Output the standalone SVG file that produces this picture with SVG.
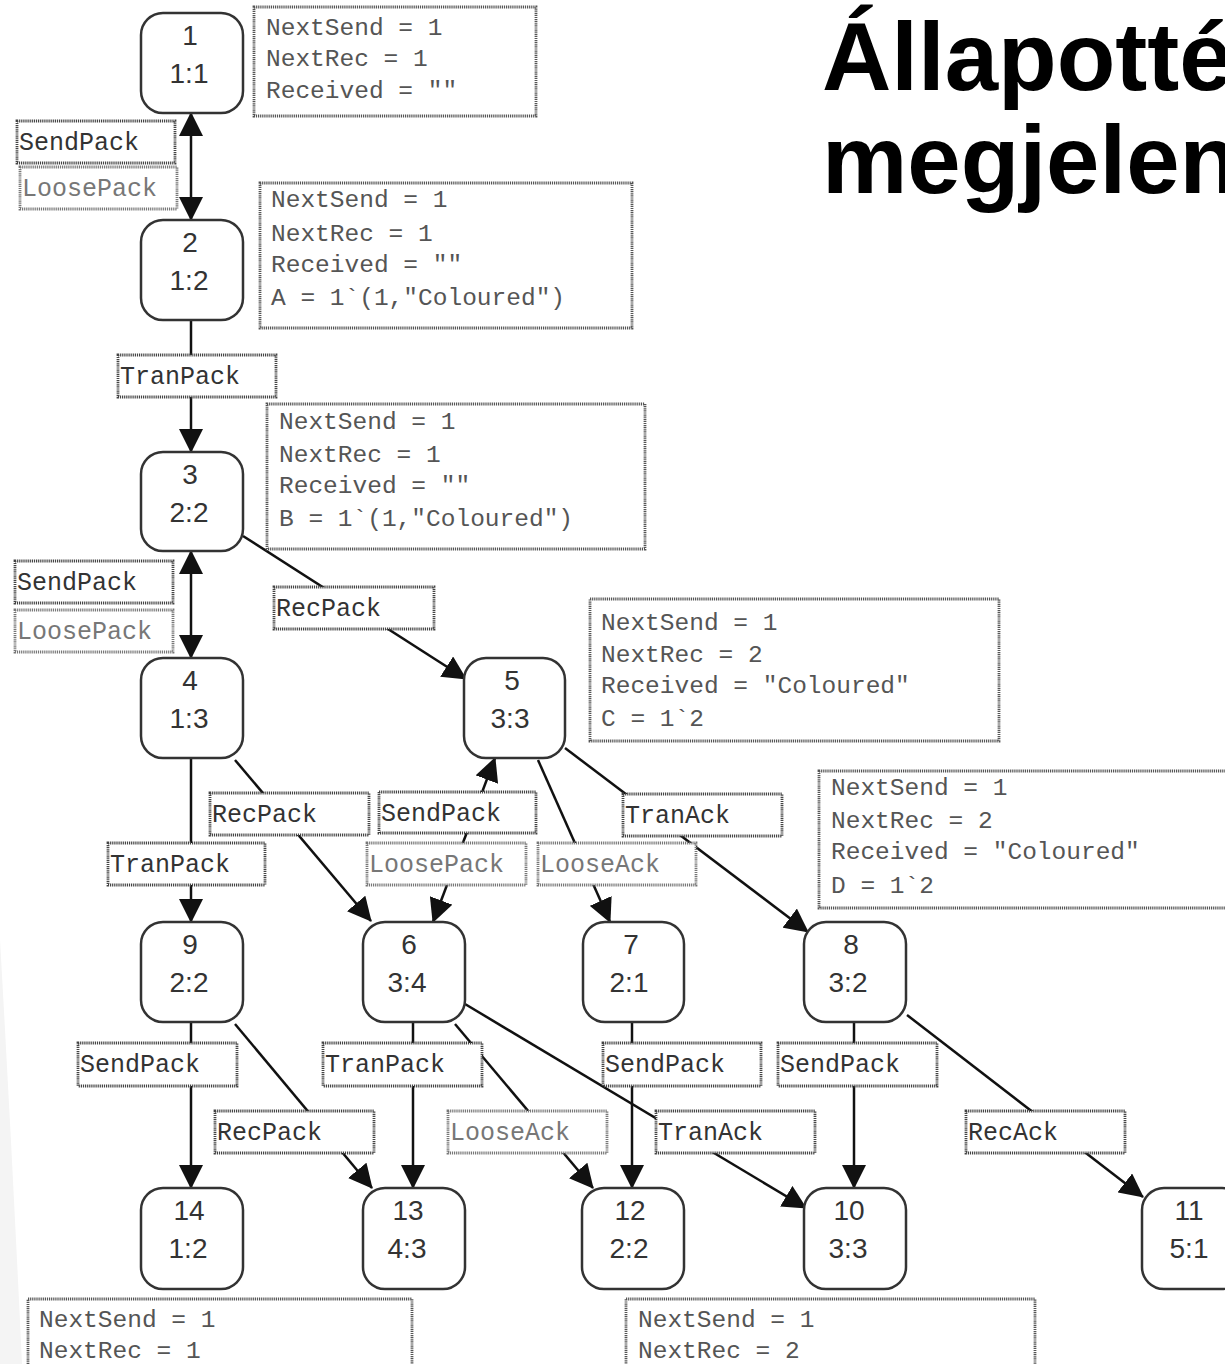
<svg xmlns="http://www.w3.org/2000/svg" width="1225" height="1364" viewBox="0 0 1225 1364">
  <defs>
    <marker id="ah" viewBox="0 0 24 24" refX="23" refY="12" markerWidth="24" markerHeight="24" markerUnits="userSpaceOnUse" orient="auto-start-reverse">
      <path d="M0,0 L24,12 L0,24 Z" fill="#111"/>
    </marker>
  </defs>
  <style>
    .node rect { fill: #fff; stroke: #333; stroke-width: 2.5; }
    .node text { font-family: "Liberation Sans", Arial, sans-serif; font-size: 28px; fill: #333; text-anchor: middle; }
    .edge { fill: none; stroke: #111; stroke-width: 2.5; marker-end: url(#ah); }
    .both { marker-start: url(#ah); }
    .info rect { fill: #fff; stroke: #555; stroke-width: 2.8; stroke-dasharray: 1.2 0.9; }
    .info text { font-family: "Liberation Mono", "Courier New", monospace; font-size: 24.5px; fill: #555; }
    .lbl rect { fill: #fff; stroke: #444; stroke-width: 2.8; stroke-dasharray: 1.2 0.9; }
    .lbl text { font-family: "Liberation Mono", "Courier New", monospace; font-size: 25px; fill: #333; }
    .lbl.loose rect { stroke: #777; }
    .lbl.loose text { fill: #777; }
    .title { font-family: "Liberation Sans", Arial, sans-serif; font-size: 96px; font-weight: bold; fill: #000; }
  </style>

  <rect width="1225" height="1364" fill="#fff"/>
  <!-- faint background sweep at the left edge -->
  <path d="M0,940 Q12,1150 22,1364 L0,1364 Z" fill="#f4f4f4"/>

  <!-- heading (runs off the right edge) -->
  <text class="title" x="822" y="90">Állapotté</text>
  <text class="title" x="822" y="193">megjelen</text>

  <!-- connectors -->
  <g id="edges">
    <path class="edge both" d="M191,113 L191,220"/>
    <path class="edge" d="M191,320 L191,452"/>
    <path class="edge both" d="M191,551 L191,658"/>
    <path class="edge" d="M243,536 L466,679"/>
    <path class="edge" d="M191,758 L191,922"/>
    <path class="edge" d="M235,760 L371,921"/>
    <path class="edge both" d="M433,922 L495,758"/>
    <path class="edge" d="M538,760 L610,922"/>
    <path class="edge" d="M565,748 L808,932"/>
    <path class="edge" d="M191,1022 L191,1188"/>
    <path class="edge" d="M235,1024 L372,1188"/>
    <path class="edge" d="M413,1022 L413,1188"/>
    <path class="edge" d="M455,1024 L593,1188"/>
    <path class="edge" d="M465,1004 L806,1208"/>
    <path class="edge" d="M632,1022 L632,1188"/>
    <path class="edge" d="M854,1022 L854,1188"/>
    <path class="edge" d="M907,1015 L1143,1197"/>
  </g>

  <!-- transition labels -->
  <g id="labels">
    <g class="lbl"><rect x="17" y="121" width="158" height="42"/><text x="19" y="150">SendPack</text></g>
    <g class="lbl loose"><rect x="20" y="167" width="157" height="42"/><text x="22" y="196">LoosePack</text></g>
    <g class="lbl"><rect x="118" y="355" width="158" height="42"/><text x="120" y="384">TranPack</text></g>
    <g class="lbl"><rect x="15" y="561" width="158" height="42"/><text x="17" y="590">SendPack</text></g>
    <g class="lbl loose"><rect x="15" y="610" width="158" height="42"/><text x="17" y="639">LoosePack</text></g>
    <g class="lbl"><rect x="274" y="587" width="160" height="42"/><text x="276" y="616">RecPack</text></g>
    <g class="lbl"><rect x="210" y="793" width="159" height="42"/><text x="212" y="822">RecPack</text></g>
    <g class="lbl"><rect x="379" y="792" width="157" height="41"/><text x="381" y="821">SendPack</text></g>
    <g class="lbl"><rect x="623" y="794" width="159" height="42"/><text x="625" y="823">TranAck</text></g>
    <g class="lbl"><rect x="108" y="843" width="157" height="42"/><text x="110" y="872">TranPack</text></g>
    <g class="lbl loose"><rect x="367" y="843" width="159" height="42"/><text x="369" y="872">LoosePack</text></g>
    <g class="lbl loose"><rect x="538" y="843" width="158" height="42"/><text x="540" y="872">LooseAck</text></g>
    <g class="lbl"><rect x="78" y="1043" width="159" height="43"/><text x="80" y="1072">SendPack</text></g>
    <g class="lbl"><rect x="323" y="1043" width="159" height="43"/><text x="325" y="1072">TranPack</text></g>
    <g class="lbl"><rect x="603" y="1043" width="158" height="43"/><text x="605" y="1072">SendPack</text></g>
    <g class="lbl"><rect x="778" y="1043" width="159" height="43"/><text x="780" y="1072">SendPack</text></g>
    <g class="lbl"><rect x="215" y="1111" width="159" height="42"/><text x="217" y="1140">RecPack</text></g>
    <g class="lbl loose"><rect x="448" y="1111" width="159" height="42"/><text x="450" y="1140">LooseAck</text></g>
    <g class="lbl"><rect x="656" y="1111" width="159" height="42"/><text x="658" y="1140">TranAck</text></g>
    <g class="lbl"><rect x="966" y="1111" width="159" height="42"/><text x="968" y="1140">RecAck</text></g>
  </g>

  <!-- state descriptions -->
  <g id="info-1" class="info">
    <rect x="254" y="7" width="282" height="109"/>
    <text x="266" y="35">NextSend = 1</text>
    <text x="266" y="66">NextRec = 1</text>
    <text x="266" y="98">Received = ""</text>
  </g>
  <g id="info-2" class="info">
    <rect x="260" y="183" width="372" height="145"/>
    <text x="271" y="207">NextSend = 1</text>
    <text x="271" y="241">NextRec = 1</text>
    <text x="271" y="272">Received = ""</text>
    <text x="271" y="305">A = 1`(1,"Coloured")</text>
  </g>
  <g id="info-3" class="info">
    <rect x="267" y="404" width="378" height="145"/>
    <text x="279" y="429">NextSend = 1</text>
    <text x="279" y="462">NextRec = 1</text>
    <text x="279" y="493">Received = ""</text>
    <text x="279" y="526">B = 1`(1,"Coloured")</text>
  </g>
  <g id="info-5" class="info">
    <rect x="590" y="599" width="409" height="142"/>
    <text x="601" y="630">NextSend = 1</text>
    <text x="601" y="662">NextRec = 2</text>
    <text x="601" y="693">Received = "Coloured"</text>
    <text x="601" y="726">C = 1`2</text>
  </g>
  <g id="info-8" class="info">
    <rect x="819" y="771" width="420" height="137"/>
    <text x="831" y="795">NextSend = 1</text>
    <text x="831" y="828">NextRec = 2</text>
    <text x="831" y="859">Received = "Coloured"</text>
    <text x="831" y="893">D = 1`2</text>
  </g>
  <g id="info-14" class="info">
    <rect x="28" y="1299" width="384" height="80"/>
    <text x="39" y="1327">NextSend = 1</text>
    <text x="39" y="1358">NextRec = 1</text>
  </g>
  <g id="info-10" class="info">
    <rect x="626" y="1299" width="409" height="80"/>
    <text x="638" y="1327">NextSend = 1</text>
    <text x="638" y="1358">NextRec = 2</text>
  </g>

  <!-- states -->
  <g id="n1" class="node"><rect x="141" y="13" width="102" height="100" rx="22"/><text x="190" y="45">1</text><text x="189" y="83">1:1</text></g>
  <g id="n2" class="node"><rect x="141" y="220" width="102" height="100" rx="22"/><text x="190" y="252">2</text><text x="189" y="290">1:2</text></g>
  <g id="n3" class="node"><rect x="141" y="452" width="102" height="99" rx="22"/><text x="190" y="484">3</text><text x="189" y="522">2:2</text></g>
  <g id="n4" class="node"><rect x="141" y="658" width="102" height="100" rx="22"/><text x="190" y="690">4</text><text x="189" y="728">1:3</text></g>
  <g id="n5" class="node"><rect x="464" y="658" width="101" height="100" rx="22"/><text x="512" y="690">5</text><text x="510" y="728">3:3</text></g>
  <g id="n9" class="node"><rect x="141" y="922" width="102" height="100" rx="22"/><text x="190" y="954">9</text><text x="189" y="992">2:2</text></g>
  <g id="n6" class="node"><rect x="363" y="922" width="102" height="100" rx="22"/><text x="409" y="954">6</text><text x="407" y="992">3:4</text></g>
  <g id="n7" class="node"><rect x="583" y="922" width="101" height="100" rx="22"/><text x="631" y="954">7</text><text x="629" y="992">2:1</text></g>
  <g id="n8" class="node"><rect x="804" y="922" width="102" height="100" rx="22"/><text x="851" y="954">8</text><text x="848" y="992">3:2</text></g>
  <g id="n14" class="node"><rect x="141" y="1188" width="102" height="101" rx="22"/><text x="189" y="1220">14</text><text x="188" y="1258">1:2</text></g>
  <g id="n13" class="node"><rect x="363" y="1188" width="102" height="101" rx="22"/><text x="408" y="1220">13</text><text x="407" y="1258">4:3</text></g>
  <g id="n12" class="node"><rect x="582" y="1188" width="102" height="101" rx="22"/><text x="630" y="1220">12</text><text x="629" y="1258">2:2</text></g>
  <g id="n10" class="node"><rect x="804" y="1188" width="102" height="101" rx="22"/><text x="849" y="1220">10</text><text x="848" y="1258">3:3</text></g>
  <g id="n11" class="node"><rect x="1142" y="1188" width="102" height="101" rx="22"/><text x="1189" y="1220">11</text><text x="1189" y="1258">5:1</text></g>
</svg>
